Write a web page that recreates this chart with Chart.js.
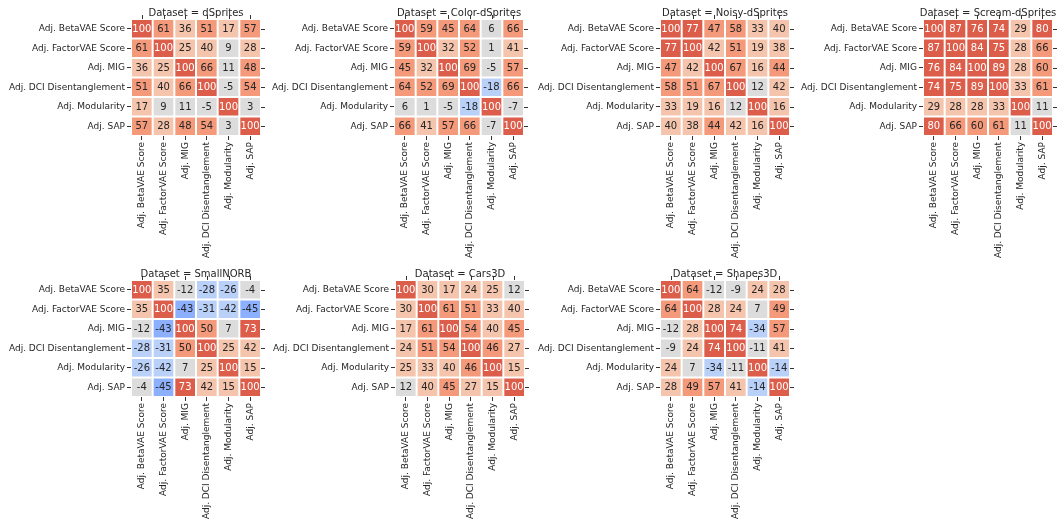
<!DOCTYPE html>
<html>
<head>
<meta charset="utf-8">
<script src="https://cdn.jsdelivr.net/npm/chart.js@4.4.0/dist/chart.umd.min.js"></script>
<style>
body { margin: 0; background: #fff; }
#wrap { position: relative; width: 1060px; height: 525px; overflow: hidden; }
#wrap canvas { position: absolute; }
</style>
</head>
<body>
<div id="wrap"></div>
<script>
var metrics = ['Adj. BetaVAE Score', 'Adj. FactorVAE Score', 'Adj. MIG', 'Adj. DCI Disentanglement', 'Adj. Modularity', 'Adj. SAP'];

var dSprites = [
    [100, 61, 36, 51, 17, 57],
    [61, 100, 25, 40, 9, 28],
    [36, 25, 100, 66, 11, 48],
    [51, 40, 66, 100, -5, 54],
    [17, 9, 11, -5, 100, 3],
    [57, 28, 48, 54, 3, 100]
];
var colorDSprites = [
    [100, 59, 45, 64, 6, 66],
    [59, 100, 32, 52, 1, 41],
    [45, 32, 100, 69, -5, 57],
    [64, 52, 69, 100, -18, 66],
    [6, 1, -5, -18, 100, -7],
    [66, 41, 57, 66, -7, 100]
];
var noisyDSprites = [
    [100, 77, 47, 58, 33, 40],
    [77, 100, 42, 51, 19, 38],
    [47, 42, 100, 67, 16, 44],
    [58, 51, 67, 100, 12, 42],
    [33, 19, 16, 12, 100, 16],
    [40, 38, 44, 42, 16, 100]
];
var screamDSprites = [
    [100, 87, 76, 74, 29, 80],
    [87, 100, 84, 75, 28, 66],
    [76, 84, 100, 89, 28, 60],
    [74, 75, 89, 100, 33, 61],
    [29, 28, 28, 33, 100, 11],
    [80, 66, 60, 61, 11, 100]
];
var smallNORB = [
    [100, 35, -12, -28, -26, -4],
    [35, 100, -43, -31, -42, -45],
    [-12, -43, 100, 50, 7, 73],
    [-28, -31, 50, 100, 25, 42],
    [-26, -42, 7, 25, 100, 15],
    [-4, -45, 73, 42, 15, 100]
];
var cars3D = [
    [100, 30, 17, 24, 25, 12],
    [30, 100, 61, 51, 33, 40],
    [17, 61, 100, 54, 40, 45],
    [24, 51, 54, 100, 46, 27],
    [25, 33, 40, 46, 100, 15],
    [12, 40, 45, 27, 15, 100]
];
var shapes3D = [
    [100, 64, -12, -9, 24, 28],
    [64, 100, 28, 24, 7, 49],
    [-12, 28, 100, 74, -34, 57],
    [-9, 24, 74, 100, -11, 41],
    [24, 7, -34, -11, 100, -14.4],
    [28, 49, 57, 41, -14.4, 100]
];

// 7 colour steps of coolwarm between -100 and 100
var palette = ['#6282ea', '#8db0fe', '#b9d0f9', '#dddcdc', '#f5c4ac', '#f49a7b', '#dc5d4a'];

function cellColor(v) {
    var i = Math.floor((v + 100) / (200 / 7));
    return palette[Math.max(0, Math.min(6, i))];
}

Chart.defaults.font.family = 'DejaVu Sans';
Chart.defaults.color = '#262626';

var panels = [
    { title: 'Dataset = dSprites', values: dSprites, x: 131, y: 19 },
    { title: 'Dataset = Color-dSprites', values: colorDSprites, x: 394, y: 19 },
    { title: 'Dataset = Noisy-dSprites', values: noisyDSprites, x: 660, y: 19 },
    { title: 'Dataset = Scream-dSprites', values: screamDSprites, x: 923, y: 19 },
    { title: 'Dataset = SmallNORB', values: smallNORB, x: 131, y: 280 },
    { title: 'Dataset = Cars3D', values: cars3D, x: 395, y: 280 },
    { title: 'Dataset = Shapes3D', values: shapes3D, x: 660, y: 280 }
];

var yAxisW = 140, xAxisH = 130, padTop = 24, padRight = 12;
var cellW = 130, cellH = 117;

// cell numbers, top/right tick marks and the facet title
var heatText = {
    id: 'heatText',
    afterDatasetsDraw: function (chart) {
        var ctx = chart.ctx;
        var values = chart.options.plugins.heatText.values;
        ctx.save();
        ctx.font = '10px "DejaVu Sans"';
        ctx.textAlign = 'center';
        ctx.textBaseline = 'middle';
        chart.data.datasets.forEach(function (ds, r) {
            chart.getDatasetMeta(r).data.forEach(function (el, c) {
                var v = values[r][c];
                ctx.fillStyle = Math.abs(v) > 71.4 ? '#ffffff' : '#262626';
                ctx.fillText(Math.round(v), el.x, (el.y + el.base) / 2 + 0.5);
            });
        });
        ctx.restore();
    },
    afterDraw: function (chart) {
        var ctx = chart.ctx, a = chart.chartArea;
        var xs = chart.scales.x, ys = chart.scales.y;
        ctx.save();
        ctx.strokeStyle = '#333';
        ctx.lineWidth = 1;
        metrics.forEach(function (m, i) {
            var px = Math.round(xs.getPixelForValue(i)) + 0.5;
            var py = Math.round(ys.getPixelForValue(i + 0.5)) + 0.5;
            ctx.beginPath(); ctx.moveTo(px, a.top); ctx.lineTo(px, a.top - 4); ctx.stroke();
            ctx.beginPath(); ctx.moveTo(a.right, py); ctx.lineTo(a.right + 4, py); ctx.stroke();
        });
        ctx.font = '10px "DejaVu Sans"';
        ctx.fillStyle = '#262626';
        ctx.textAlign = 'center';
        ctx.textBaseline = 'middle';
        ctx.fillText(chart.options.plugins.heatText.title, (a.left + a.right) / 2, a.top - 6);
        ctx.restore();
    }
};

var wrap = document.getElementById('wrap');

panels.forEach(function (p) {
    var canvas = document.createElement('canvas');
    var w = yAxisW + cellW + padRight, h = padTop + cellH + xAxisH;
    canvas.width = w;
    canvas.height = h;
    canvas.style.width = w + 'px';
    canvas.style.height = h + 'px';
    canvas.style.left = (p.x - yAxisW) + 'px';
    canvas.style.top = (p.y - padTop) + 'px';
    wrap.appendChild(canvas);

    var datasets = metrics.map(function (m, r) {
        return {
            label: m,
            data: metrics.map(function () { return [r, r + 1]; }),
            backgroundColor: p.values[r].map(cellColor),
            borderColor: '#ffffff',
            borderWidth: 1,
            borderSkipped: false,
            inflateAmount: 0,
            grouped: false,
            barPercentage: 1,
            categoryPercentage: 1
        };
    });

    var tickGrid = {
        offset: false,
        drawOnChartArea: false,
        drawTicks: true,
        tickLength: 4,
        color: '#333',
        lineWidth: 1
    };

    new Chart(canvas, {
        type: 'bar',
        data: { labels: metrics, datasets: datasets },
        options: {
            responsive: false,
            animation: false,
            devicePixelRatio: 1,
            layout: { padding: { top: padTop, right: padRight, left: 0, bottom: 0 } },
            plugins: {
                legend: { display: false },
                tooltip: { enabled: false },
                heatText: { values: p.values, title: p.title }
            },
            scales: {
                x: {
                    type: 'category',
                    offset: true,
                    grid: tickGrid,
                    border: { display: false },
                    ticks: { autoSkip: false, maxRotation: 90, minRotation: 90, padding: 2, font: { size: 9 }, color: '#262626' },
                    afterFit: function (s) { s.height = xAxisH; }
                },
                y: {
                    type: 'linear',
                    reverse: true,
                    min: 0,
                    max: 6,
                    grid: tickGrid,
                    border: { display: false },
                    afterBuildTicks: function (s) {
                        s.ticks = metrics.map(function (m, i) { return { value: i + 0.5 }; });
                    },
                    ticks: {
                        autoSkip: false,
                        padding: 2,
                        font: { size: 9 },
                        color: '#262626',
                        callback: function (v) { return metrics[Math.floor(v)]; }
                    },
                    afterFit: function (s) { s.width = yAxisW; }
                }
            }
        },
        plugins: [heatText]
    });
});
</script>
</body>
</html>
